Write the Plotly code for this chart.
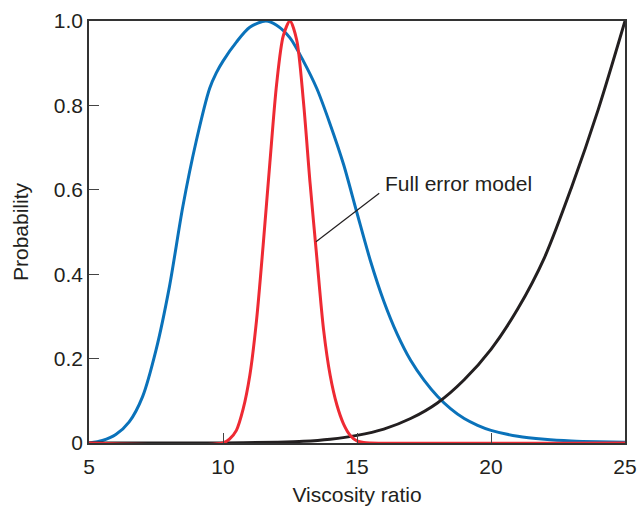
import plotly.graph_objects as go

# Probability curves versus viscosity ratio
blue_x = [5.0, 5.5, 6.0, 6.5, 7.0, 7.5, 8.0, 8.5, 9.0, 9.5, 9.75, 10.0, 10.5, 11.0, 11.6, 12.0,
          12.5, 13.0, 13.5, 14.0, 14.5, 15.0, 15.5, 16.0, 16.5, 17.0, 17.5, 18.0, 18.5, 19.0,
          19.5, 20.0, 21.0, 22.0, 23.0, 24.0, 25.0]
blue_y = [0.0, 0.006, 0.02, 0.05, 0.11, 0.22, 0.37, 0.56, 0.715, 0.84, 0.877, 0.905, 0.95, 0.985,
          1.0, 0.99, 0.96, 0.905, 0.84, 0.755, 0.66, 0.545, 0.432, 0.336, 0.258, 0.196, 0.149,
          0.111, 0.081, 0.058, 0.042, 0.030, 0.016, 0.009, 0.005, 0.003, 0.002]

red_x = [5.0, 10.0, 10.25, 10.5, 10.75, 11.0, 11.25, 11.5, 11.75, 12.0, 12.25, 12.5, 12.75, 13.0,
         13.25, 13.5, 13.75, 14.0, 14.25, 14.5, 14.75, 15.0, 15.25, 15.5, 25.0]
red_y = [0.0, 0.0, 0.01, 0.03, 0.08, 0.16, 0.29, 0.47, 0.665, 0.85, 0.965, 1.0, 0.955, 0.81,
         0.615, 0.44, 0.27, 0.16, 0.09, 0.045, 0.018, 0.005, 0.001, 0.0, 0.0]

black_x = [5.0, 10.0, 12.0, 13.0, 14.0, 15.0, 16.0, 17.0, 18.0, 19.0, 20.0, 21.0, 22.0, 23.0,
           24.0, 25.0]
black_y = [0.0, 0.0, 0.002, 0.004, 0.009, 0.018, 0.033, 0.058, 0.095, 0.150, 0.222, 0.318,
           0.44, 0.605, 0.79, 1.0]

x_ticks = [5, 10, 15, 20, 25]
y_ticks = [0, 0.2, 0.4, 0.6, 0.8, 1.0]
y_tick_text = ["0", "0.2", "0.4", "0.6", "0.8", "1.0"]

label_text = "Full error model"
leader_from = (13.47, 0.477)
leader_to = (15.83, 0.592)
label_pos = (15.98, 0.615)

BLUE = "#0A72BA"
RED = "#EE2A33"
BLACK = "#231F20"
FONT = "Liberation Sans, Arial, Helvetica, sans-serif"
FSIZE = 21

fig = go.Figure()
fig.add_trace(go.Scatter(x=blue_x, y=blue_y, mode="lines", cliponaxis=False,
                         line=dict(color=BLUE, width=3, shape="spline", smoothing=0.8)))
fig.add_trace(go.Scatter(x=black_x, y=black_y, mode="lines", cliponaxis=False,
                         line=dict(color=BLACK, width=3, shape="spline", smoothing=0.8)))
fig.add_trace(go.Scatter(x=red_x, y=red_y, mode="lines", cliponaxis=False,
                         line=dict(color=RED, width=3, shape="spline", smoothing=0.8)))

fig.add_shape(type="line", x0=leader_from[0], y0=leader_from[1], x1=leader_to[0], y1=leader_to[1],
              line=dict(color=BLACK, width=1.2))
fig.add_annotation(x=label_pos[0], y=label_pos[1], text=label_text, showarrow=False,
                   xanchor="left", yanchor="middle", font=dict(size=FSIZE, color=BLACK, family=FONT))

axis_common = dict(showgrid=False, zeroline=False, ticks="inside", ticklen=10, tickwidth=1.3,
                   tickcolor="#444", showline=True, linecolor="#333", linewidth=1.5, mirror=True,
                   automargin=False, tickfont=dict(size=FSIZE, color=BLACK, family=FONT))

fig.update_xaxes(range=[5, 25], tickvals=x_ticks, ticktext=[str(v) for v in x_ticks],
                 ticklabelstandoff=4,
                 title=dict(text="Viscosity ratio", font=dict(size=FSIZE, color=BLACK, family=FONT),
                            standoff=16),
                 **axis_common)
fig.update_yaxes(range=[0, 1], tickvals=y_ticks, ticktext=y_tick_text,
                 title=dict(text="Probability", font=dict(size=FSIZE, color=BLACK, family=FONT),
                            standoff=19),
                 **axis_common)

fig.update_layout(width=638, height=506, margin=dict(l=89, r=13, t=21, b=63),
                  plot_bgcolor="white", paper_bgcolor="white", showlegend=False,
                  font=dict(family=FONT, color=BLACK))

fig.write_html("out.html")
